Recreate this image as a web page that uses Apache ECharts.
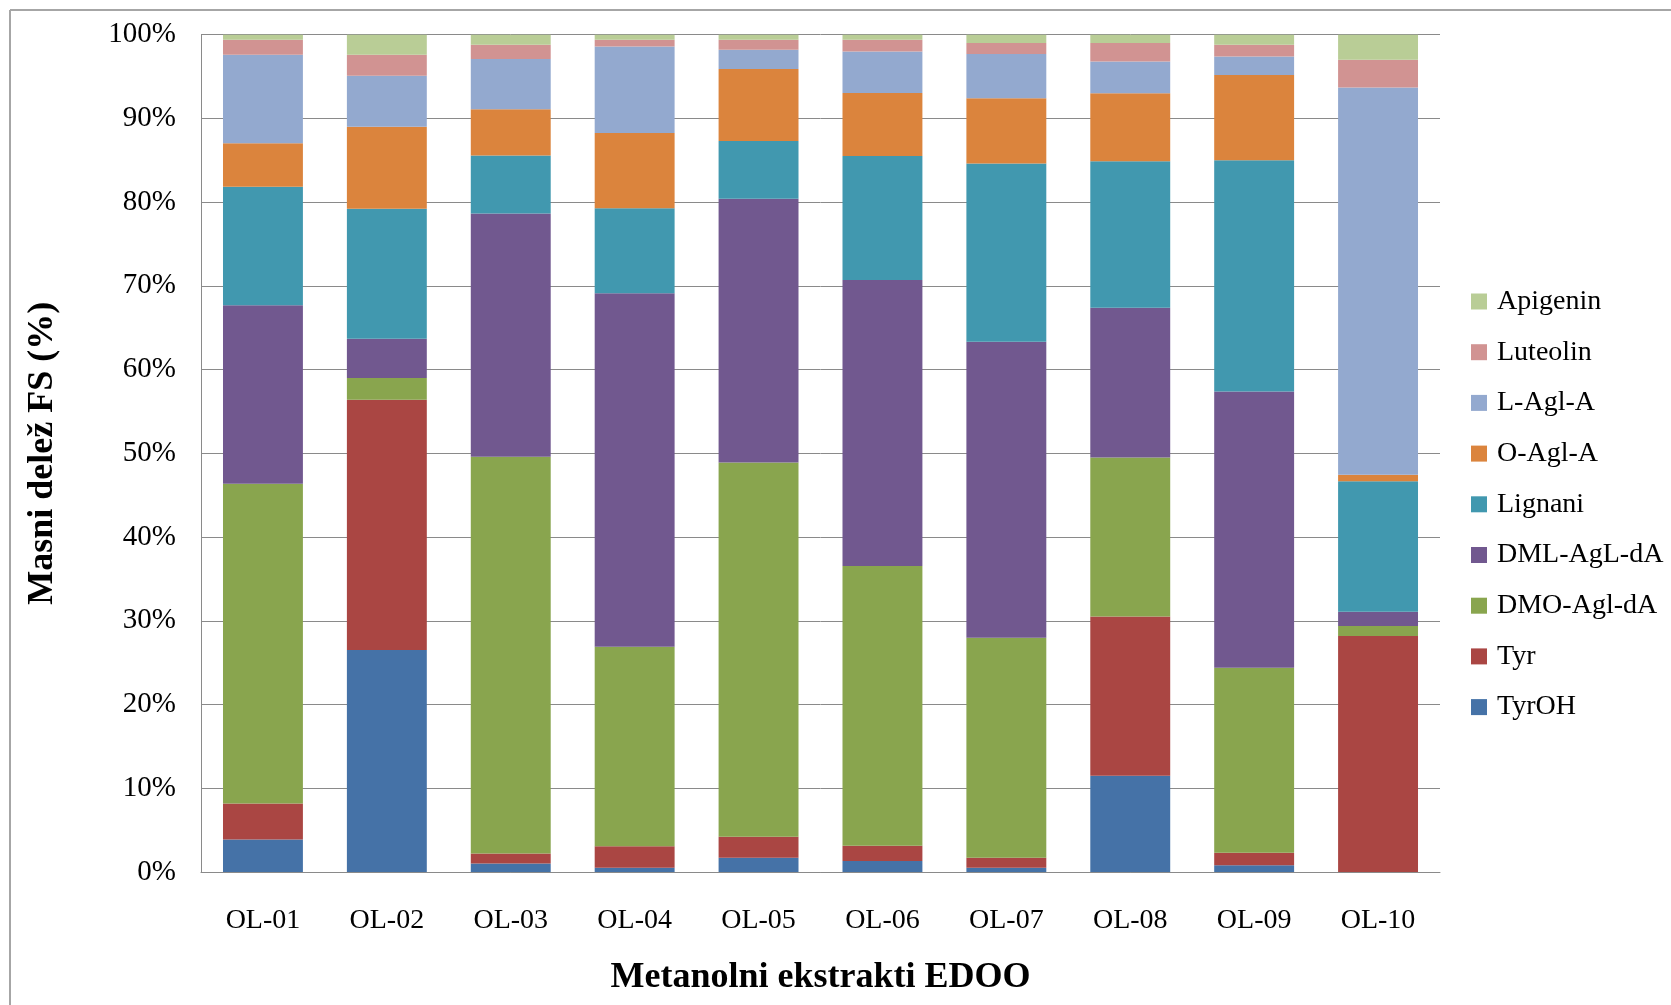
<!DOCTYPE html>
<html>
<head>
<meta charset="utf-8">
<script src="https://cdn.jsdelivr.net/npm/echarts@6/dist/echarts.min.js"></script>
<style>
html,body{margin:0;padding:0;background:#fff;}
#chart{width:1671px;height:1005px;}
</style>
</head>
<body>
<div id="chart"></div>
<script>
const categories = ['OL-01','OL-02','OL-03','OL-04','OL-05','OL-06','OL-07','OL-08','OL-09','OL-10'];
const yTickLabels = ['0%','10%','20%','30%','40%','50%','60%','70%','80%','90%','100%'];

const tyrOH    = [3.9, 26.5, 1.0, 0.5, 1.7, 1.3, 0.5, 11.5, 0.8, 0.0];
const tyr      = [4.3, 29.9, 1.2, 2.6, 2.5, 1.8, 1.2, 19.0, 1.5, 28.2];
const dmoAgldA = [38.3, 2.6, 47.3, 23.9, 44.7, 33.2, 26.3, 19.0, 22.1, 1.2];
const dmlAgldA = [21.4, 4.7, 29.0, 42.4, 31.5, 33.9, 35.4, 17.9, 33.0, 1.7];
const lignani  = [14.2, 15.5, 6.9, 10.2, 6.9, 14.7, 21.3, 17.5, 27.6, 15.6];
const oAglA    = [5.2, 9.8, 5.5, 9.0, 8.6, 7.5, 7.8, 8.1, 10.2, 0.8];
const lAglA    = [10.6, 6.1, 6.0, 10.4, 2.3, 4.9, 5.3, 3.8, 2.2, 46.3];
const luteolin = [1.8, 2.5, 1.7, 0.8, 1.2, 1.4, 1.3, 2.2, 1.4, 3.3];
const apigenin = [0.6, 2.4, 1.2, 0.6, 0.6, 0.6, 1.0, 1.0, 1.2, 3.0];

const seriesNames = ['TyrOH','Tyr','DMO-Agl-dA','DML-AgL-dA','Lignani','O-Agl-A','L-Agl-A','Luteolin','Apigenin'];
const seriesValues = [tyrOH, tyr, dmoAgldA, dmlAgldA, lignani, oAglA, lAglA, luteolin, apigenin];
const seriesColors = ['#4572A7','#AA4643','#89A54E','#71588F','#4198AF','#DB843D','#93A9CF','#D19392','#B9CD96'];

// 100% stacked: normalise each category to its total
const totals = categories.map((c, i) => seriesValues.reduce((s, arr) => s + arr[i], 0));

const FONT = 'Liberation Serif';

const chart = echarts.init(document.getElementById('chart'), null, {renderer: 'canvas'});
chart.setOption({
  animation: false,
  backgroundColor: '#fff',
  textStyle: {fontFamily: FONT, color: '#000'},
  grid: {left: 201, top: 34.7, right: 231, bottom: 133, containLabel: false},
  legend: {
    orient: 'vertical',
    left: 1466,
    top: 282.5,
    itemWidth: 16,
    itemHeight: 16,
    itemGap: 22.7,
    icon: 'rect',
    data: seriesNames.slice().reverse(),
    textStyle: {fontFamily: FONT, fontSize: 28, color: '#000', lineHeight: 28, padding: [0, 0, 0, 5]}
  },
  xAxis: {
    type: 'category',
    data: categories,
    name: 'Metanolni ekstrakti EDOO',
    nameLocation: 'middle',
    nameGap: 88,
    nameTextStyle: {fontFamily: FONT, fontSize: 36, fontWeight: 'bold', color: '#000', lineHeight: 36},
    axisLine: {show: true, lineStyle: {color: '#8a8a8a', width: 1}},
    axisTick: {show: false},
    axisLabel: {fontFamily: FONT, fontSize: 28, color: '#000', margin: 34.5, lineHeight: 28}
  },
  yAxis: {
    type: 'value',
    min: 0,
    max: 100,
    interval: 10,
    name: 'Masni delež FS (%)',
    nameLocation: 'middle',
    nameGap: 140,
    nameTextStyle: {fontFamily: FONT, fontSize: 36, fontWeight: 'bold', color: '#000', lineHeight: 36},
    axisLine: {show: true, lineStyle: {color: '#8a8a8a', width: 1}},
    axisTick: {show: false},
    splitLine: {show: true, lineStyle: {color: '#8a8a8a', width: 1}},
    axisLabel: {
      fontFamily: FONT, fontSize: 29, color: '#000', margin: 25,
      formatter: (v) => yTickLabels[Math.round(v / 10)]
    }
  },
  graphic: [
    {type: 'line', shape: {x1: 10, y1: 10, x2: 1671, y2: 10}, style: {stroke: '#a6a6a6', lineWidth: 2}, silent: true},
    {type: 'line', shape: {x1: 10, y1: 10, x2: 10, y2: 1005}, style: {stroke: '#a6a6a6', lineWidth: 2}, silent: true}
  ],
  series: seriesNames.map((name, k) => ({
    name: name,
    type: 'bar',
    stack: 'total',
    barCategoryGap: '35.5%',
    itemStyle: {color: seriesColors[k]},
    data: seriesValues[k].map((v, i) => v / totals[i] * 100)
  }))
});
</script>
</body>
</html>
